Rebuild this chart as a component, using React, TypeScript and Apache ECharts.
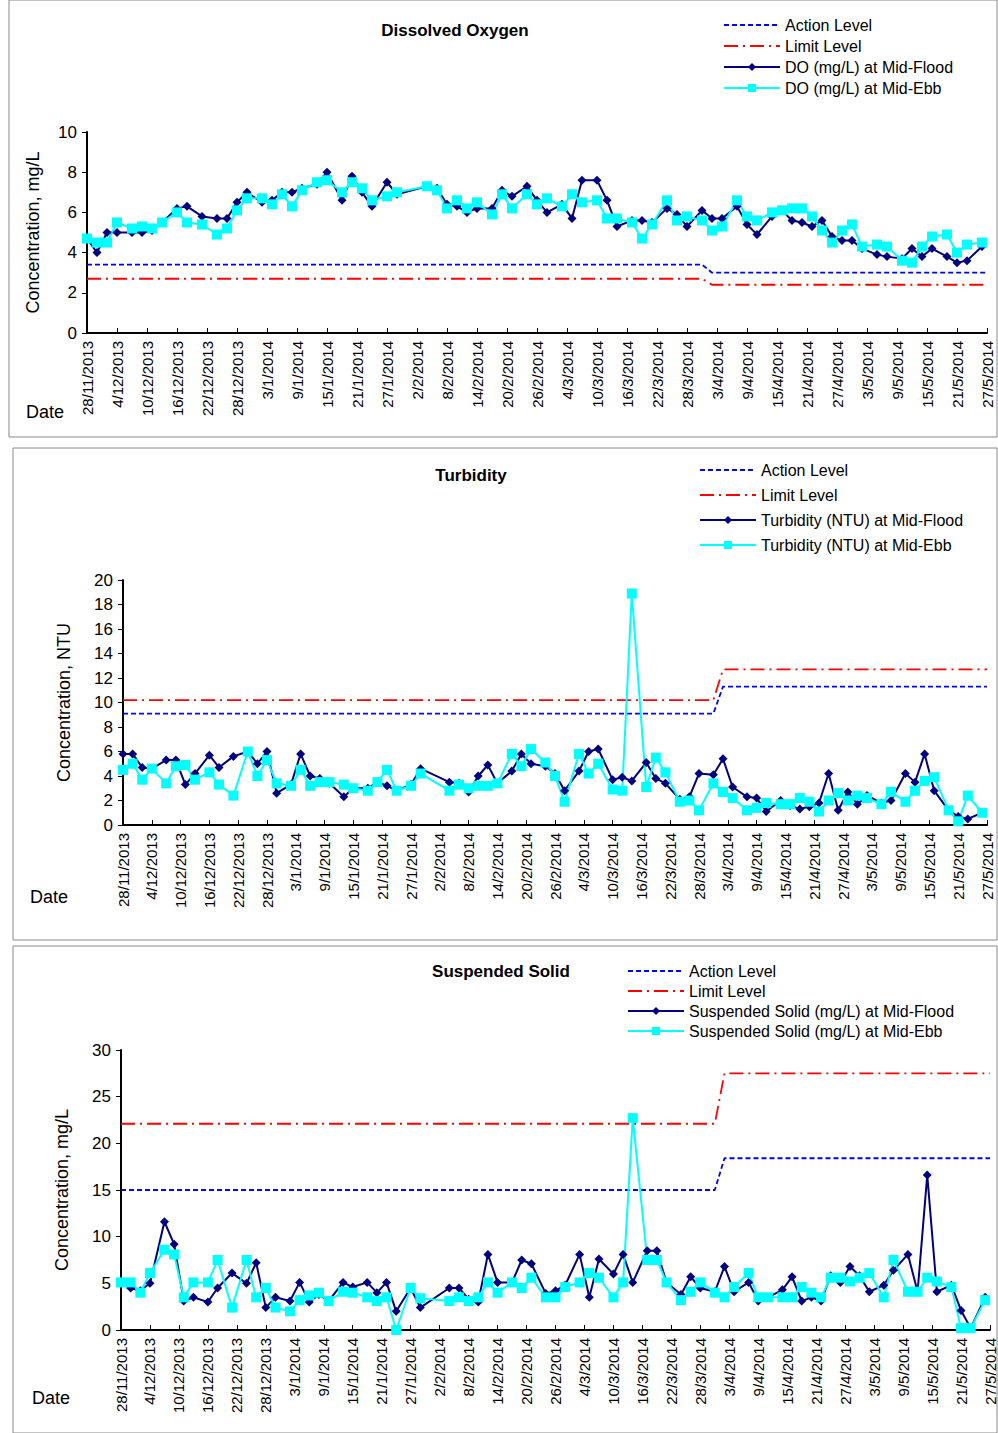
import { useEffect, useRef } from "react";
import * as echarts from "echarts";

// sampling days counted from 28/11/2013
const days = [0, 2, 4, 6, 9, 11, 13, 15, 18, 20, 23, 26, 28, 30, 32, 35, 37, 39, 41, 43, 46, 48, 51, 53, 55, 57, 60, 62,
  68, 70, 72, 74, 76, 78, 81, 83, 85, 88,
  90, 92, 95, 97, 99, 102, 104, 106, 109, 111, 113, 116, 118, 120, 123, 125, 127, 130, 132, 134, 137, 139,
  141, 143, 145, 147, 149, 151, 153, 155, 158, 160, 163, 165, 167, 169, 172, 174, 176, 179];

const doFlood = [4.7, 4.0, 5.0, 5.0, 5.0, 5.0, 5.1, 5.5, 6.2, 6.3, 5.8, 5.7, 5.7, 6.5, 7.0, 6.5, 6.6, 7.0, 7.0, 7.2, 7.4, 8.0, 6.6, 7.8, 7.0, 6.3, 7.5, 6.9,
  7.3, 7.2, 6.4, 6.3, 6.0, 6.2, 6.2, 7.1, 6.8, 7.3,
  6.6, 6.0, 6.4, 5.7, 7.6, 7.6, 6.6, 5.3, 5.6, 5.6, 5.5, 6.2, 5.9, 5.3, 6.1, 5.7, 5.7, 6.3, 5.4, 4.9, 5.8, 6.1,
  5.6, 5.5, 5.3, 5.6, 4.8, 4.6, 4.6, 4.2, 3.9, 3.8, 3.7, 4.2, 3.8, 4.2, 3.8, 3.5, 3.6, 4.3];
const doEbb = [4.7, 4.5, 4.5, 5.5, 5.2, 5.3, 5.2, 5.5, 6.0, 5.5, 5.4, 4.9, 5.2, 6.1, 6.7, 6.7, 6.4, 6.9, 6.3, 7.1, 7.5, 7.6, 7.0, 7.5, 7.2, 6.6, 6.8, 7.0,
  7.3, 7.1, 6.2, 6.6, 6.2, 6.5, 5.9, 6.9, 6.2, 6.9,
  6.4, 6.7, 6.3, 6.9, 6.5, 6.6, 5.7, 5.7, 5.5, 4.7, 5.4, 6.6, 5.6, 5.8, 5.6, 5.1, 5.3, 6.6, 5.8, 5.6, 6.0, 6.1,
  6.2, 6.2, 5.8, 5.1, 4.5, 5.1, 5.4, 4.3, 4.4, 4.3, 3.6, 3.5, 4.3, 4.8, 4.9, 4.0, 4.4, 4.5];

const tuFlood = [5.8, 5.8, 4.7, 4.6, 5.3, 5.3, 3.3, 4.2, 5.7, 4.7, 5.6, 6.0, 5.0, 6.0, 2.6, 3.3, 5.8, 4.0, 3.8, 3.4, 2.3, 3.0, 3.0, 3.5, 3.2, 2.8, 3.3, 4.6,
  3.5, 3.4, 2.7, 4.0, 4.9, 3.4, 4.4, 5.8, 5.0, 4.8,
  4.2, 2.8, 4.4, 6.0, 6.2, 3.7, 3.9, 3.6, 5.1, 3.8, 3.4, 2.1, 2.3, 4.2, 4.1, 5.4, 3.1, 2.3, 2.2, 1.1, 2.0, 1.6,
  1.3, 1.5, 1.8, 4.2, 1.2, 2.7, 1.7, 2.4, 1.8, 2.0, 4.2, 3.5, 5.8, 2.8, 1.2, 0.7, 0.5, 1.0];
const tuEbb = [4.5, 5.0, 3.7, 4.6, 3.4, 4.8, 4.9, 3.7, 4.3, 3.3, 2.4, 6.0, 4.0, 5.3, 3.4, 3.2, 4.5, 3.2, 3.5, 3.5, 3.3, 3.0, 2.8, 3.5, 4.5, 2.8, 3.2, 4.2,
  2.8, 3.3, 3.0, 3.2, 3.2, 3.4, 5.8, 4.8, 6.2, 5.1,
  4.0, 1.9, 5.8, 4.2, 5.0, 2.9, 2.8, 18.9, 3.1, 5.5, 4.3, 1.9, 2.0, 1.2, 3.4, 2.7, 2.2, 1.2, 1.4, 1.8, 1.7, 1.7,
  2.2, 1.9, 1.1, 2.0, 2.6, 2.0, 2.4, 2.2, 1.7, 2.7, 1.9, 2.8, 3.6, 3.9, 1.2, 0.3, 2.4, 1.0];

const ssFlood = [5.1, 4.5, 4.2, 5.0, 11.6, 9.2, 3.1, 3.5, 3.0, 4.5, 6.1, 5.0, 7.2, 2.4, 3.5, 3.1, 5.1, 3.0, 3.8, 3.1, 5.1, 4.6, 5.1, 4.0, 5.1, 2.0, 4.5, 2.4,
  4.5, 4.5, 3.3, 3.0, 8.1, 5.1, 5.1, 7.5, 7.1, 3.9,
  4.2, 4.8, 8.1, 3.5, 7.6, 6.0, 8.1, 5.1, 8.5, 8.5, 5.1, 3.8, 5.7, 4.5, 4.1, 6.8, 4.1, 5.1, 3.1, 3.5, 4.3, 5.7,
  3.1, 3.5, 3.1, 5.8, 5.1, 6.8, 5.8, 4.1, 4.8, 6.4, 8.1, 4.1, 16.6, 4.1, 4.8, 2.1, 0.2, 3.5];
const ssEbb = [5.1, 5.1, 4.0, 6.1, 8.6, 8.1, 3.5, 5.1, 5.1, 7.5, 2.4, 7.5, 3.5, 4.5, 2.4, 2.0, 3.2, 3.7, 4.0, 3.1, 4.1, 4.0, 3.5, 3.1, 3.5, 0.0, 4.5, 3.4,
  3.1, 3.5, 3.1, 3.5, 5.1, 4.0, 5.1, 4.5, 5.6, 3.5,
  3.5, 4.6, 5.1, 6.1, 5.6, 3.5, 5.1, 22.7, 7.5, 7.5, 5.1, 3.2, 4.1, 5.1, 4.0, 3.5, 4.6, 6.1, 3.5, 3.5,
  3.5, 3.5, 4.6, 4.0, 3.5, 5.6, 5.6, 5.2, 5.6, 6.1, 3.5, 7.5, 4.1, 4.1, 5.6, 5.2, 4.6, 0.2, 0.2, 3.2];

// [before, after] the change of levels at the start of April
const doAction = [3.4, 3.0];
const doLimit = [2.7, 2.4];
const tuAction = [9.1, 11.3];
const tuLimit = [10.2, 12.7];
const ssAction = [15.0, 18.4];
const ssLimit = [22.1, 27.5];
const changeDays = [123, 125];

const FONT = "Liberation Sans, Arial, sans-serif";

function dayLabel(d: number) {
  const t = new Date(Date.UTC(2013, 10, 28) + d * 86400000);
  return `${t.getUTCDate()}/${t.getUTCMonth() + 1}/${t.getUTCFullYear()}`;
}

function level(v: number[]) {
  return [[0, v[0]], [changeDays[0], v[0]], [changeDays[1], v[1]], [180, v[1]]];
}

function pts(vals: number[]) {
  return days.map((d, i) => [d, vals[i]]);
}

export default function App() {
  const ref = useRef<HTMLDivElement>(null);

  useEffect(() => {
    if (!ref.current) return;
    const chart = echarts.init(ref.current, null, { renderer: "svg" });

    const grids = [
      { left: 87, top: 132, width: 900, height: 201 },
      { left: 123, top: 580, width: 864, height: 245 },
      { left: 121, top: 1050, width: 869, height: 280 },
    ];
    const ymax = [10, 20, 30];
    const yint = [2, 2, 5];
    const ynames = ["Concentration, mg/L", "Concentration, NTU", "Concentration, mg/L"];
    const titles = ["Dissolved Oxygen", "Turbidity", "Suspended Solid"];
    const titlePos = [[455, 30], [471, 475], [501, 971]];
    const names = [
      ["DO (mg/L) at Mid-Flood", "DO (mg/L) at Mid-Ebb"],
      ["Turbidity (NTU) at Mid-Flood", "Turbidity (NTU) at Mid-Ebb"],
      ["Suspended Solid (mg/L) at Mid-Flood", "Suspended Solid (mg/L) at Mid-Ebb"],
    ];
    const lv = [[doAction, doLimit], [tuAction, tuLimit], [ssAction, ssLimit]];
    const vals = [[doFlood, doEbb], [tuFlood, tuEbb], [ssFlood, ssEbb]];
    const legendPos = [
      { left: 718, top: 12, itemGap: 5 },
      { left: 694, top: 457, itemGap: 9 },
      { left: 622, top: 958, itemGap: 4 },
    ];

    const series: any[] = [];
    const legends: any[] = [];
    for (let k = 0; k < 3; k++) {
      const act = `Action Level${" ".repeat(k)}`;
      const lim = `Limit Level${" ".repeat(k)}`;
      series.push(
        { name: act, type: "line", xAxisIndex: k, yAxisIndex: k, data: level(lv[k][0]), showSymbol: false, symbol: "none",
          lineStyle: { color: "#0000ff", width: 1.8, type: [5, 3] }, itemStyle: { color: "#0000ff" } },
        { name: lim, type: "line", xAxisIndex: k, yAxisIndex: k, data: level(lv[k][1]), showSymbol: false, symbol: "none",
          lineStyle: { color: "#ff0000", width: 1.8, type: [14, 5, 2, 5] }, itemStyle: { color: "#ff0000" } },
        { name: names[k][0], type: "line", xAxisIndex: k, yAxisIndex: k, data: pts(vals[k][0]), symbol: "diamond", symbolSize: 9,
          lineStyle: { color: "#000080", width: 2 }, itemStyle: { color: "#000080" } },
        { name: names[k][1], type: "line", xAxisIndex: k, yAxisIndex: k, data: pts(vals[k][1]), symbol: "rect", symbolSize: 10,
          lineStyle: { color: "#00ffff", width: 2 }, itemStyle: { color: "#00ffff" } },
      );
      legends.push({
        ...legendPos[k], orient: "vertical", itemWidth: 56, itemHeight: 10,
        data: [
          { name: act, itemStyle: { opacity: 0 } },
          { name: lim, itemStyle: { opacity: 0 } },
          names[k][0],
          names[k][1],
        ],
        textStyle: { fontFamily: FONT, fontSize: 16, color: "#000" },
        selectedMode: false,
      });
    }

    const boxes = [[9, 0, 988, 437], [13, 448, 984, 492], [13, 946, 984, 487]];
    const graphic: any[] = boxes.map((b) => ({
      type: "rect", shape: { x: b[0], y: b[1], width: b[2], height: b[3] },
      style: { fill: "none", stroke: "#888", lineWidth: 1 }, silent: true,
    }));
    titles.forEach((t, k) => graphic.push({
      type: "text", x: titlePos[k][0], y: titlePos[k][1],
      style: { text: t, font: `bold 17px ${FONT}`, fill: "#000", textAlign: "center", textVerticalAlign: "middle" },
    }));
    [[45, 412], [49, 897], [51, 1398]].forEach((p) => graphic.push({
      type: "text", x: p[0], y: p[1],
      style: { text: "Date", font: `18px ${FONT}`, fill: "#000", textAlign: "center", textVerticalAlign: "middle" },
    }));

    chart.setOption({
      animation: false,
      grid: grids,
      legend: legends,
      graphic,
      xAxis: grids.map((_, k) => ({
        type: "value", gridIndex: k, min: 0, max: 180, interval: 6,
        axisLine: { lineStyle: { color: "#000", width: 2 } },
        axisTick: { inside: true, length: 5, lineStyle: { color: "#000" } },
        splitLine: { show: false },
        axisLabel: { rotate: 90, formatter: dayLabel, fontFamily: FONT, fontSize: 15, color: "#000", margin: 8, showMinLabel: true, showMaxLabel: true },
      })),
      yAxis: grids.map((_, k) => ({
        type: "value", gridIndex: k, min: 0, max: ymax[k], interval: yint[k],
        name: ynames[k], nameLocation: "middle", nameGap: k === 0 ? 45 : 50,
        nameTextStyle: { fontFamily: FONT, fontSize: 18, color: "#000" },
        axisLine: { show: true, lineStyle: { color: "#000", width: 2 } },
        axisTick: { show: true, length: 5, lineStyle: { color: "#000" } },
        splitLine: { show: false },
        axisLabel: { fontFamily: FONT, fontSize: 17, color: "#000", margin: 10 },
      })),
      series,
    });
    return () => chart.dispose();
  }, []);

  return <div ref={ref} style={{ position: "absolute", left: 0, top: 0, width: 998, height: 1433, background: "#fff" }} />;
}
